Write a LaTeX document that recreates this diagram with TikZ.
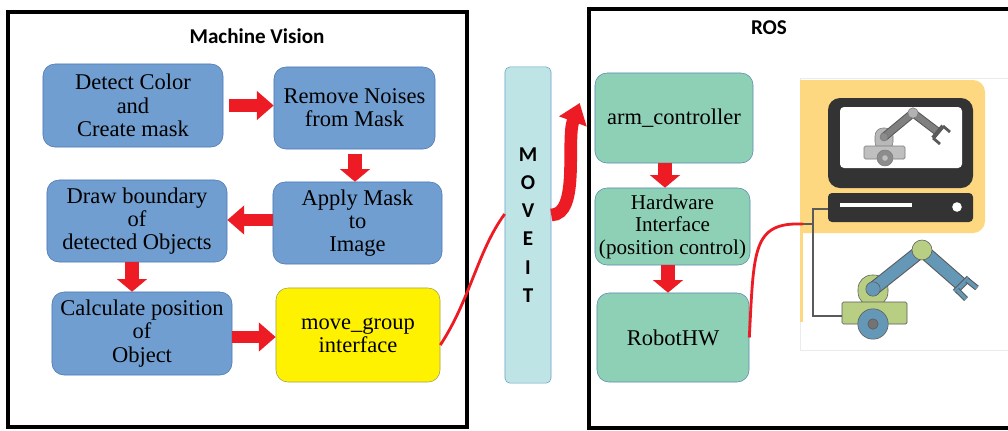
\documentclass[tikz,border=0pt]{standalone}
\usepackage{fontspec}
\setmainfont{Liberation Serif}
\newfontfamily\boxfont{Liberation Serif}
\newfontfamily\headfont{Carlito}
\usetikzlibrary{arrows.meta}

\definecolor{boxblue}{RGB}{113,158,208}
\definecolor{boxblueline}{RGB}{75,120,180}
\definecolor{tealfill}{RGB}{142,208,182}
\definecolor{tealline}{RGB}{90,140,175}
\definecolor{movefill}{RGB}{190,228,230}
\definecolor{moveline}{RGB}{110,160,200}
\definecolor{groupyellow}{RGB}{255,242,0}
\definecolor{groupline}{RGB}{160,160,90}
\definecolor{flowred}{RGB}{237,28,36}
\definecolor{panelyellow}{RGB}{253,216,128}
\definecolor{screendark}{RGB}{51,51,51}
\definecolor{armblue}{RGB}{100,152,182}
\definecolor{armgreen}{RGB}{184,206,130}
\definecolor{partline}{RGB}{90,90,90}

\begin{document}
\begin{tikzpicture}[x=0.025cm,y=-0.025cm,
	visionbox/.style={draw=boxblueline,fill=boxblue,rounded corners=0.3cm,align=center,
		font=\boxfont\fontsize{16}{16.5}\selectfont,inner sep=1pt},
	rosbox/.style={visionbox,draw=tealline,fill=tealfill},
	titletext/.style={font=\headfont\bfseries\fontsize{15}{18}\selectfont},
	hflow/.style={draw=flowred,line width=9pt,-{Triangle[width=20pt,length=12pt]}},
	vflow/.style={draw=flowred,line width=10pt,-{Triangle[width=21pt,length=9pt]}},
	wire/.style={flowred,line width=2pt},
	lead/.style={partline,line width=0.8pt}]
	\useasboundingbox (0,0) rectangle (1008,430);
	% frames
	\draw[line width=2.5pt] (8,12) rectangle (467,427);
	\draw[line width=2.5pt] (589,9) rectangle (1040,428);
	\node[titletext] (mvtitle) at (257,36) {Machine Vision};
	\node[titletext] (rostitle) at (769,28) {ROS};
	% machine vision steps
	\node[visionbox,minimum width=4.5cm,minimum height=2.075cm] (detect) at (133,105.5) {Detect Color\\and\\Create mask};
	\node[visionbox,minimum width=4.025cm,minimum height=2.05cm] (noise) at (354.5,108) {Remove Noises\\from Mask};
	\node[visionbox,minimum width=4.225cm,minimum height=2.05cm] (apply) at (357.5,223) {Apply Mask\\to\\Image};
	\node[visionbox,minimum width=4.5cm,minimum height=2.05cm] (bound) at (137,221) {Draw boundary\\of\\detected Objects};
	\node[visionbox,minimum width=4.5cm,minimum height=2.075cm] (calc) at (142,333.5) {Calculate position\\of\\Object};
	\node[visionbox,draw=groupline,fill=groupyellow,minimum width=4.1cm,minimum height=2.35cm] (group) at (358,335) {move\_group\\interface};
	\draw[hflow,shorten <=4pt] (detect.east) -- (detect.east -| noise.west);
	\draw[vflow,shorten <=3pt] (noise.south -| 355,0) -- (apply.north -| 355,0);
	\draw[hflow] (apply.west |- 0,220) -- (bound.east |- 0,220);
	\draw[vflow] (bound.south -| 132,0) -- (calc.north -| 132,0);
	\draw[hflow] (calc.east |- 0,337) -- (group.west |- 0,337);
	% moveit column
	\node[draw=moveline,fill=movefill,rounded corners=0.12cm,minimum width=1.15cm,minimum height=7.9cm,
		align=center,font=\headfont\bfseries\fontsize{15}{20}\selectfont] (moveit) at (528,225) {M\\O\\V\\E\\I\\T};
	\draw[wire] ([yshift=-0.25cm]group.east) .. controls (470,300) and (478,250) .. ([yshift=0.275cm]moveit.west);
	% ros chain
	\node[rosbox,minimum width=3.95cm,minimum height=2.25cm] (arm) at (674,118) {arm\_controller};
	\node[rosbox,minimum width=3.875cm,minimum height=1.925cm,font=\boxfont\fontsize{15}{16}\selectfont] (hw) at (672.5,226.5) {Hardware\\Interface\\(position control)};
	\node[rosbox,minimum width=3.8cm,minimum height=2.225cm] (robothw) at (673,337.5) {RobotHW};
	\draw[draw=flowred,line width=9pt,-{Triangle[width=20pt,length=14pt]}] ([yshift=0.25cm]moveit.east) .. controls (580,215) and (566,140) .. ([xshift=-0.375cm,yshift=0.375cm]arm.west);
	\draw[vflow] (arm.south -| 665,0) -- (hw.north -| 665,0);
	\draw[vflow] (hw.south -| 668,0) -- (robothw.north -| 668,0);
	% workstation and robot
	\draw[black!8,fill=white] (800,78) rectangle (1030,350);
	\fill[panelyellow] (800,80) [rounded corners=0.3cm] -- (985,80) -- (985,233) [sharp corners] -- (800,233) -- cycle;
	\fill[panelyellow] (800,233) rectangle (803,322);
	\fill[screendark,rounded corners=0.3cm] (828,98) rectangle (973,188);
	\fill[white,rounded corners=0.1cm] (840,107) rectangle (962,168);
	\fill[screendark,rounded corners=0.1cm] (828,193) rectangle (973,222);
	\fill[white] (840,203) rectangle (912,207);
	\fill[white] (957,207) circle (0.12cm);
	% robot on the screen
	\draw[partline!80,fill=black!28,rounded corners=0.2cm] (875,128) rectangle (893,150);
	\draw[partline,line width=6pt] (884,137) -- (913,113) -- (938,132);
	\draw[black!50,line width=4.5pt] (884,137) -- (913,113) -- (938,132);
	\draw[partline,line width=3pt] (943,126) -- (933,138);
	\draw[partline,line width=2pt] (943,126) -- (950,132) (933,138) -- (940,144);
	\draw[partline!80,fill=black!30] (913,113) circle (0.13cm);
	\draw[partline!80,fill=black!45] (884,137) circle (0.1cm);
	\draw[partline!80,fill=black!25,rounded corners=1pt] (864,146) rectangle (905,159);
	\draw[partline!80,fill=black!45] (885,158) circle (0.2cm);
	\fill[black!25] (885,158) circle (0.07cm);
	% robot on the floor
	\draw[partline,fill=armgreen,rounded corners=0.35cm] (858,275) rectangle (888,306);
	\draw[partline,line width=10pt] (873,289) -- (922,250) -- (962,285);
	\draw[armblue,line width=8.5pt] (873,289) -- (922,250) -- (962,285);
	\draw[partline,line width=4.5pt] (969,278) -- (955,292);
	\draw[armblue,line width=3pt] (969,278) -- (955,292);
	\draw[partline,line width=4pt] (967,280) -- (977,288) (957,290) -- (966,299);
	\draw[armblue,line width=2.5pt] (967,280) -- (977,288) (957,290) -- (966,299);
	\draw[partline,fill=armblue] (873,289) circle (0.18cm);
	\draw[partline,fill=armgreen] (922,250) circle (0.25cm);
	\draw[partline,fill=armgreen,rounded corners=1pt] (842,302) rectangle (907,324);
	\draw[partline,fill=armblue] (873,324) circle (0.38cm);
	\draw[partline,fill=black!55] (873,324) circle (0.13cm);
	% leads
	\coordinate (plug) at (803,224);
	\draw[lead] (plug) -- (813,224) |- (828,209);
	\draw[lead] (813,224) |- (842,316);
	\draw[wire] (robothw.east) .. controls (754,250) and (752,222) .. (plug);
\end{tikzpicture}
\end{document}
